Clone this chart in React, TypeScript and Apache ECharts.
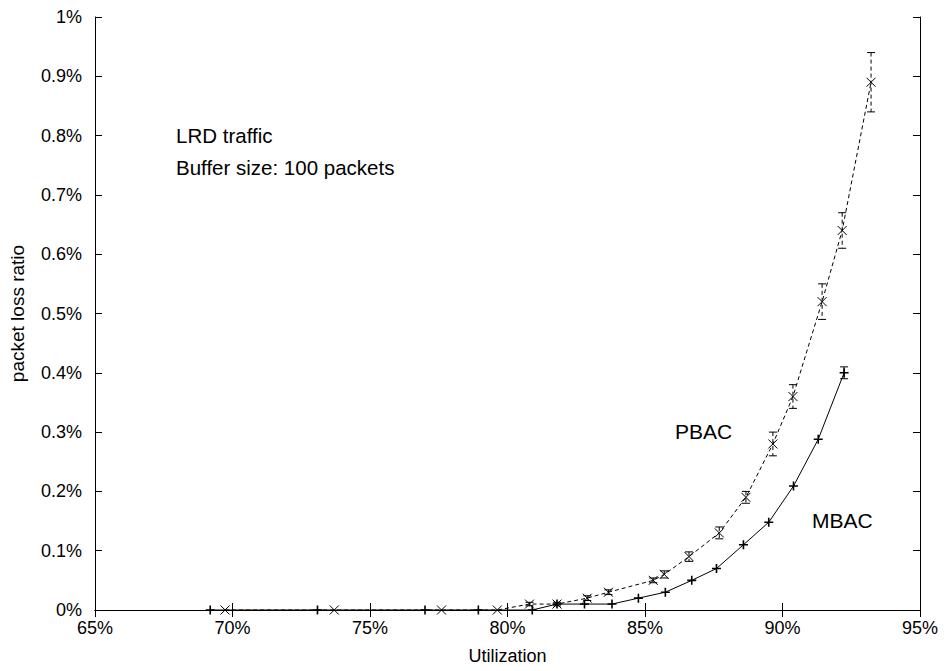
import React, { useEffect, useRef } from "react";
import * as echarts from "echarts";

// MBAC (solid line, "+" markers)
const utilMBAC = [69.19, 73.09, 77.0, 78.94, 80.9, 81.8, 82.8, 83.8, 84.76, 85.74, 86.7, 87.6, 88.58, 89.5, 90.4, 91.3, 92.24];
const lossMBAC = [0, 0, 0, 0, 0, 0.01, 0.01, 0.01, 0.02, 0.03, 0.05, 0.07, 0.11, 0.148, 0.209, 0.288, 0.4];
const errMBAC = [0, 0, 0, 0, 0, 0, 0, 0, 0, 0, 0, 0, 0, 0, 0, 0, 0.01];

// PBAC (dashed line, "x" markers)
const utilPBAC = [69.73, 73.7, 77.6, 79.63, 80.8, 81.8, 82.9, 83.67, 85.3, 85.7, 86.6, 87.7, 88.67, 89.65, 90.38, 91.44, 92.17, 93.22];
const lossPBAC = [0, 0, 0, 0, 0.01, 0.01, 0.02, 0.03, 0.05, 0.06, 0.09, 0.13, 0.19, 0.28, 0.36, 0.52, 0.64, 0.89];
const errPBAC = [0, 0, 0, 0, 0.003, 0.003, 0.004, 0.004, 0.004, 0.006, 0.008, 0.01, 0.01, 0.02, 0.02, 0.03, 0.03, 0.05];

const xTicks = { min: 65, max: 95, interval: 5 };
const yTicks = { min: 0, max: 1, interval: 0.1 };

const FONT = "'Liberation Sans', Arial, Helvetica, sans-serif";
const DASH = [4, 3];

function errorBars(util: number[], loss: number[], err: number[]) {
  const out: number[][] = [];
  util.forEach((u, i) => {
    if (err[i] > 0) out.push([u, loss[i] - err[i], loss[i] + err[i]]);
  });
  return out;
}

function makeErrRender(dashed: boolean) {
  return (params: any, api: any) => {
    const x = api.value(0);
    const top = api.coord([x, api.value(2)]);
    const bot = api.coord([x, api.value(1)]);
    const w = 4;
    const st: any = { stroke: "#000", lineWidth: 1 };
    if (dashed) st.lineDash = DASH;
    const cap = { stroke: "#000", lineWidth: 1 };
    return {
      type: "group",
      children: [
        { type: "line", shape: { x1: top[0], y1: top[1], x2: bot[0], y2: bot[1] }, style: st },
        { type: "line", shape: { x1: top[0] - w, y1: top[1], x2: top[0] + w, y2: top[1] }, style: cap },
        { type: "line", shape: { x1: bot[0] - w, y1: bot[1], x2: bot[0] + w, y2: bot[1] }, style: cap },
      ],
    };
  };
}

export default function App() {
  const ref = useRef<HTMLDivElement>(null);
  useEffect(() => {
    if (!ref.current) return;
    const chart = echarts.init(ref.current, null, { renderer: "svg" });
    const axisLine = { show: true, lineStyle: { color: "#000", width: 1 } };
    const tick = { show: true, inside: true, length: 7, lineStyle: { color: "#000", width: 1 } };
    const fmtY = (v: number) => parseFloat(v.toFixed(2)) + "%";
    chart.setOption({
      animation: false,
      backgroundColor: "#fff",
      textStyle: { fontFamily: FONT },
      grid: { left: 94, right: 28, top: 17, bottom: 61 },
      xAxis: [
        {
          type: "value",
          ...xTicks,
          name: "Utilization",
          nameLocation: "middle",
          nameGap: 37,
          nameTextStyle: { fontSize: 18, color: "#000", fontFamily: FONT },
          axisLine,
          axisTick: tick,
          axisLabel: { fontSize: 18, color: "#000", margin: 9, formatter: (v: number) => v + "%", fontFamily: FONT },
          splitLine: { show: false },
        },
        {
          type: "value",
          position: "top",
          ...xTicks,
          axisLine,
          axisTick: tick,
          axisLabel: { show: false },
          splitLine: { show: false },
        },
      ],
      yAxis: [
        {
          type: "value",
          ...yTicks,
          name: "packet loss ratio",
          nameLocation: "middle",
          nameGap: 68,
          nameTextStyle: { fontSize: 19, color: "#000", fontFamily: FONT },
          axisLine,
          axisTick: tick,
          axisLabel: { fontSize: 18, color: "#000", margin: 13, formatter: fmtY, fontFamily: FONT },
          splitLine: { show: false },
        },
        {
          type: "value",
          position: "right",
          ...yTicks,
          axisLine,
          axisTick: tick,
          axisLabel: { show: false },
          splitLine: { show: false },
        },
      ],
      series: [
        {
          name: "PBAC",
          type: "line",
          data: utilPBAC.map((u, i) => [u, lossPBAC[i]]),
          symbol: "path://M0,0L10,10M0,10L10,0",
          symbolSize: 9,
          showSymbol: true,
          lineStyle: { color: "#000", width: 1, type: DASH },
          itemStyle: { color: "none", borderColor: "#000", borderWidth: 1 },
          z: 3,
        },
        {
          name: "MBAC",
          type: "line",
          data: utilMBAC.map((u, i) => [u, lossMBAC[i]]),
          symbol: "path://M5,0L5,10M0,5L10,5",
          symbolSize: 9,
          showSymbol: true,
          lineStyle: { color: "#000", width: 1, type: "solid" },
          itemStyle: { color: "none", borderColor: "#000", borderWidth: 1.6 },
          z: 3,
        },
        {
          name: "PBAC err",
          type: "custom",
          data: errorBars(utilPBAC, lossPBAC, errPBAC),
          renderItem: makeErrRender(true),
          z: 4,
        },
        {
          name: "MBAC err",
          type: "custom",
          data: errorBars(utilMBAC, lossMBAC, errMBAC),
          renderItem: makeErrRender(false),
          z: 4,
        },
      ],
      graphic: [
        { type: "text", left: 176, top: 125, style: { text: "LRD traffic", fontSize: 20.5, fill: "#000", fontFamily: FONT } },
        { type: "text", left: 176, top: 157, style: { text: "Buffer size: 100 packets", fontSize: 20.5, fill: "#000", fontFamily: FONT } },
        { type: "text", left: 675, top: 421, style: { text: "PBAC", fontSize: 21, fill: "#000", fontFamily: FONT } },
        { type: "text", left: 812, top: 510, style: { text: "MBAC", fontSize: 21, fill: "#000", fontFamily: FONT } },
      ],
    });
    return () => chart.dispose();
  }, []);
  return <div ref={ref} style={{ width: 948, height: 671, position: "absolute", left: 0, top: 0 }} />;
}
